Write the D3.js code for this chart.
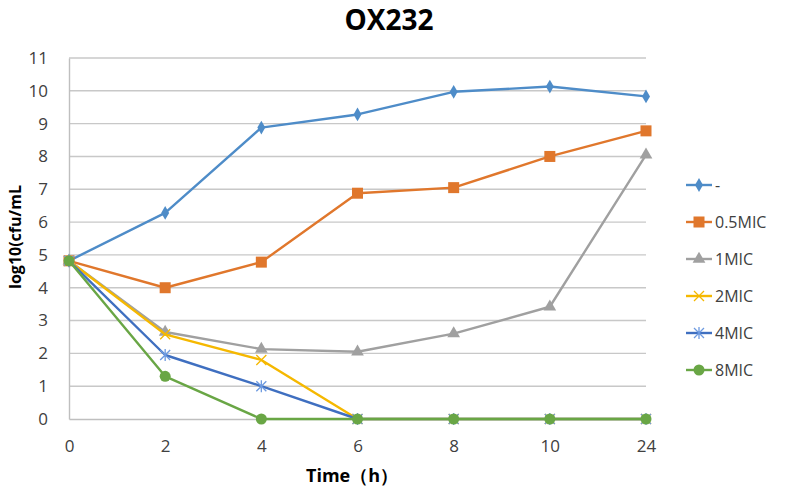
<!DOCTYPE html>
<html>
<head>
<meta charset="utf-8">
<script src="https://cdn.jsdelivr.net/npm/d3@7"></script>
<style>
  body { margin: 0; background: #fff; }
  text { font-family: "Open Sans", "Noto Sans", sans-serif; }
</style>
</head>
<body>
<div id="chart"></div>
<script>
// data
var times = ["0", "2", "4", "6", "8", "10", "24"];
var seriesNames = ["-", "0.5MIC", "1MIC", "2MIC", "4MIC", "8MIC"];
var ctrl    = [4.82, 6.28, 8.88, 9.28, 9.97, 10.13, 9.83];
var mic05   = [4.82, 4.00, 4.78, 6.88, 7.05, 8.00, 8.78];
var mic1    = [4.82, 2.65, 2.13, 2.05, 2.60, 3.42, 8.05];
var mic2    = [4.82, 2.58, 1.80, 0, 0, 0, 0];
var mic4    = [4.82, 1.95, 1.00, 0, 0, 0, 0];
var mic8    = [4.82, 1.30, 0, 0, 0, 0, 0];
var yTicks  = [0, 1, 2, 3, 4, 5, 6, 7, 8, 9, 10, 11];

var colors  = ["#4e8cc8", "#e0772c", "#a0a0a0", "#f5b800", "#3f6fc0", "#69a645"];
var shapes  = ["diamond", "square", "triangle", "x", "star", "circle"];
var allVals = [ctrl, mic05, mic1, mic2, mic4, mic8];

var W = 787, H = 486;
var svg = d3.select("#chart").append("svg")
        .attr("width", W)
        .attr("height", H);

var x = d3.scalePoint().domain(times).range([69, 646]);
var y = d3.scaleLinear().domain([0, 11]).range([419, 58]);

// gridlines
svg.append("g").selectAll("line")
        .data(yTicks.filter(function(d) { return d > 0; }))
        .enter().append("line")
        .attr("x1", 69).attr("x2", 646)
        .attr("y1", function(d) { return y(d); })
        .attr("y2", function(d) { return y(d); })
        .style("stroke", "#c8c8c8")
        .style("stroke-width", 1.4);

// y axis
var yAxis = svg.append("g")
        .attr("transform", "translate(69,0)")
        .call(d3.axisLeft(y).tickValues(yTicks).tickSize(0).tickPadding(21));
yAxis.select(".domain").style("stroke", "#bfbfbf").style("stroke-width", 1.4);
yAxis.selectAll("text").style("font-size", "17px").style("fill", "#404040");

// x axis
var xAxis = svg.append("g")
        .attr("transform", "translate(0,419)")
        .call(d3.axisBottom(x).tickSize(0).tickPadding(21));
xAxis.select(".domain").style("stroke", "#bfbfbf").style("stroke-width", 1.4);
xAxis.selectAll("text").style("font-size", "17px").style("fill", "#404040");

// titles
svg.append("text")
        .attr("x", 389).attr("y", 30)
        .attr("text-anchor", "middle")
        .style("font-size", "28px").style("font-weight", "bold")
        .style("fill", "#000")
        .text("OX232");

svg.append("text")
        .attr("transform", "translate(21,237) rotate(-90)")
        .attr("text-anchor", "middle")
        .style("font-size", "16px").style("font-weight", "bold")
        .style("fill", "#000")
        .text("log10(cfu/mL");

svg.append("text")
        .attr("x", 352).attr("y", 482)
        .attr("text-anchor", "middle")
        .style("font-size", "18px").style("font-weight", "bold")
        .style("fill", "#000")
        .text("Time（h）");

function marker(g, shape, color) {
        if (shape == "diamond") {
                g.append("path").attr("d", d3.symbol().type(d3.symbolDiamond).size(55)())
                        .style("fill", color);
        } else if (shape == "square") {
                g.append("rect").attr("x", -5.5).attr("y", -5.5).attr("width", 11).attr("height", 11)
                        .style("fill", color);
        } else if (shape == "triangle") {
                g.append("path").attr("d", d3.symbol().type(d3.symbolTriangle).size(70)())
                        .style("fill", color);
        } else if (shape == "x") {
                g.append("path").attr("d", "M-5,-5L5,5M-5,5L5,-5")
                        .style("stroke", color).style("stroke-width", 1.3).style("fill", "none");
        } else if (shape == "star") {
                g.append("path").attr("d", "M-5,-5L5,5M-5,5L5,-5M0,-6L0,6")
                        .style("stroke", "#6d9ae0").style("stroke-width", 1.3).style("fill", "none");
        } else {
                g.append("circle").attr("r", 5.5).style("fill", color);
        }
}

var line = d3.line()
        .x(function(d, i) { return x(times[i]); })
        .y(function(d) { return y(d); });

allVals.forEach(function(vals, s) {
        svg.append("path")
                .datum(vals)
                .attr("d", line)
                .style("fill", "none")
                .style("stroke", colors[s])
                .style("stroke-width", 2.4)
                .style("stroke-linejoin", "round");
        vals.forEach(function(v, i) {
                var g = svg.append("g")
                        .attr("transform", "translate(" + x(times[i]) + "," + y(v) + ")");
                marker(g, shapes[s], colors[s]);
        });
});

// legend
var leg = svg.append("g");
seriesNames.forEach(function(name, s) {
        var ly = 185 + s * 37;
        leg.append("line")
                .attr("x1", 686).attr("x2", 712)
                .attr("y1", ly).attr("y2", ly)
                .style("stroke", colors[s]).style("stroke-width", 2.4);
        var g = leg.append("g").attr("transform", "translate(699," + ly + ")");
        marker(g, shapes[s], colors[s]);
        leg.append("text")
                .attr("x", 715).attr("y", ly + 6)
                .style("font-size", "16px").style("fill", "#404040")
                .text(name);
});
</script>
</body>
</html>
